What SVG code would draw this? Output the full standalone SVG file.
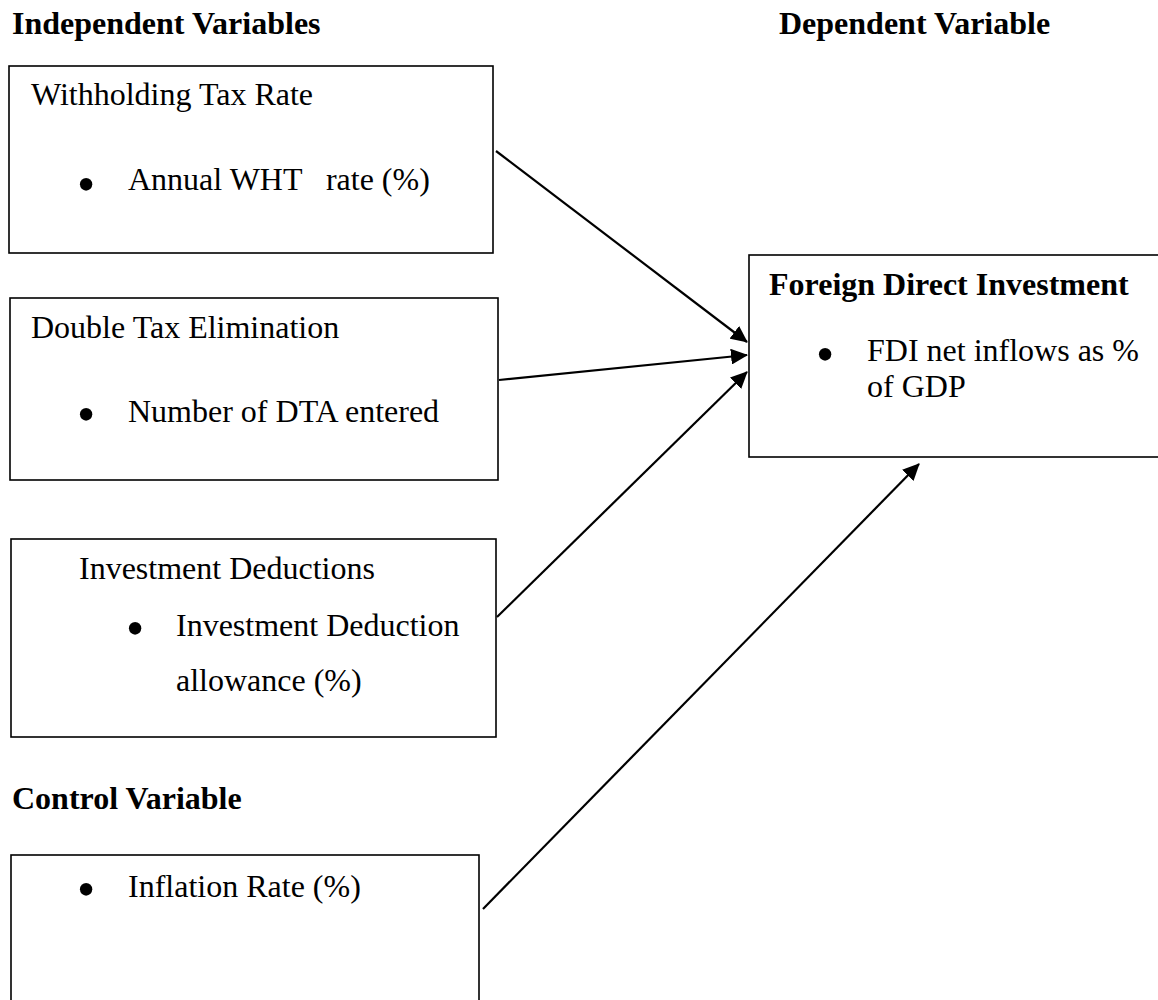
<svg xmlns="http://www.w3.org/2000/svg" width="1158" height="1000" viewBox="0 0 1158 1000">
<style>
text{font-family:"Liberation Serif","Times New Roman",serif;font-size:32px;fill:#000}
.b{font-weight:bold}
.bul{font-size:52px;text-anchor:middle}
.box{fill:#fff;stroke:#000;stroke-width:1.6}
.conn line{stroke:#000;stroke-width:2.2}
</style>
<defs>
<marker id="ah" markerUnits="userSpaceOnUse" markerWidth="17" markerHeight="16" refX="16" refY="8" orient="auto">
<path d="M0,0 L17,8 L0,16 z" fill="#000"/>
</marker>
</defs>
<rect width="1158" height="1000" fill="#fff"/>
<g id="headers">
<text class="b" x="12" y="34">Independent Variables</text>
<text class="b" x="779" y="34">Dependent Variable</text>
<text class="b" x="12" y="809">Control Variable</text>
</g>
<g id="wht">
<rect class="box" x="9" y="66" width="484" height="187"/>
<text x="31" y="105">Withholding Tax Rate</text>
<text class="bul" x="86" y="202">•</text>
<text x="128" y="190" xml:space="preserve">Annual WHT   rate (%)</text>
</g>
<g id="dte">
<rect class="box" x="10" y="298" width="488" height="182"/>
<text x="31" y="338">Double Tax Elimination</text>
<text class="bul" x="86" y="432">•</text>
<text x="128" y="422">Number of DTA entered</text>
</g>
<g id="invded">
<rect class="box" x="11" y="539" width="485" height="198"/>
<text x="79" y="579">Investment Deductions</text>
<text class="bul" x="135" y="646">•</text>
<text x="176" y="636">Investment Deduction</text>
<text x="176" y="691">allowance (%)</text>
</g>
<g id="inflation">
<rect class="box" x="11" y="855" width="468" height="160"/>
<text class="bul" x="86" y="907">•</text>
<text x="128" y="897">Inflation Rate (%)</text>
</g>
<g id="fdi">
<rect class="box" x="749" y="255" width="420" height="202"/>
<text class="b" x="769" y="295">Foreign Direct Investment</text>
<text class="bul" x="825" y="372">•</text>
<text x="867" y="361">FDI net inflows as %</text>
<text x="867" y="397">of GDP</text>
</g>
<g id="connectors" class="conn">
<line x1="496" y1="151" x2="747" y2="342" marker-end="url(#ah)"/>
<line x1="499" y1="380" x2="747" y2="355" marker-end="url(#ah)"/>
<line x1="497" y1="617" x2="747" y2="372" marker-end="url(#ah)"/>
<line x1="483" y1="909" x2="919" y2="464" marker-end="url(#ah)"/>
</g>
</svg>
